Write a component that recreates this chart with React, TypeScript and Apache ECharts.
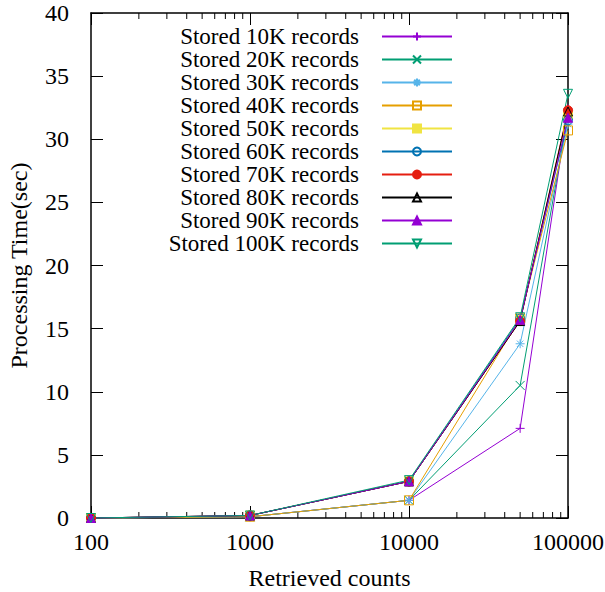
import React, { useEffect, useRef } from "react";
import * as echarts from "echarts";

const retrievedCounts = [100, 1000, 10000, 50000, 100000];
const seriesNames = [
  "Stored 10K records",
  "Stored 20K records",
  "Stored 30K records",
  "Stored 40K records",
  "Stored 50K records",
  "Stored 60K records",
  "Stored 70K records",
  "Stored 80K records",
  "Stored 90K records",
  "Stored 100K records",
];
const stored10K = [0, 0.1, 1.4, 7.1, 32.4];
const stored20K = [0, 0.1, 1.4, 10.5, 31.9];
const stored30K = [0, 0.1, 1.4, 13.8, 31.2];
const stored40K = [0, 0.1, 1.4, 15.8, 30.7];
const stored50K = [0, 0.2, 2.9, 15.7, 32.0];
const stored60K = [0, 0.2, 2.9, 15.8, 31.5];
const stored70K = [0, 0.2, 2.9, 15.6, 32.3];
const stored80K = [0, 0.2, 2.9, 15.6, 32.2];
const stored90K = [0, 0.2, 2.9, 15.7, 31.7];
const stored100K = [0, 0.2, 3.0, 15.9, 33.6];
const allValues = [
  stored10K, stored20K, stored30K, stored40K, stored50K,
  stored60K, stored70K, stored80K, stored90K, stored100K,
];
const xTickLabels = ["100", "1000", "10000", "100000"];
const minorTickValues = [
  200, 300, 400, 500, 600, 700, 800, 900,
  2000, 3000, 4000, 5000, 6000, 7000, 8000, 9000,
  20000, 30000, 40000, 50000, 60000, 70000, 80000, 90000,
];

const colors = [
  "#9400d3", "#009e73", "#56b4e9", "#e69f00", "#f0e442",
  "#0072b2", "#e51e10", "#000000", "#9400d3", "#009e73",
];
const TRANSPARENT = "rgba(0,0,0,0)";
const symbols: { symbol: string; filled: boolean }[] = [
  { symbol: "path://M5,0L5,10M0,5L10,5", filled: false },
  { symbol: "path://M0,0L10,10M10,0L0,10", filled: false },
  { symbol: "path://M5,0L5,10M0,5L10,5M1.5,1.5L8.5,8.5M8.5,1.5L1.5,8.5", filled: false },
  { symbol: "path://M0,0L10,0L10,10L0,10Z", filled: false },
  { symbol: "path://M0,0L10,0L10,10L0,10Z", filled: true },
  { symbol: "circle", filled: false },
  { symbol: "circle", filled: true },
  { symbol: "path://M5,0L10,8.66L0,8.66Z", filled: false },
  { symbol: "path://M5,0L10,8.66L0,8.66Z", filled: true },
  { symbol: "path://M0,0L10,0L5,8.66Z", filled: false },
];

const FONT = "'Liberation Serif', 'Times New Roman', serif";
const Y_MIN = 0;
const Y_MAX = 40;

export default function App() {
  const ref = useRef<HTMLDivElement>(null);
  useEffect(() => {
    if (!ref.current) return;
    const chart = echarts.init(ref.current, undefined, { renderer: "svg" });
    const lineSeries = seriesNames.map((name, i) => {
      const s = symbols[i];
      const c = colors[i];
      return {
        name,
        type: "line",
        xAxisIndex: 0,
        yAxisIndex: 0,
        data: retrievedCounts.map((x, j) => [x, allValues[i][j]]),
        symbol: s.symbol,
        symbolSize: 9,
        showAllSymbol: true,
        clip: false,
        lineStyle: { color: c, width: 1 },
        itemStyle: {
          color: s.filled ? c : TRANSPARENT,
          borderColor: c,
          borderWidth: 1,
        },
        emphasis: { disabled: true },
        z: 3,
      };
    });
    const axisLabelStyle = { color: "#000", fontFamily: FONT, fontSize: 24 };
    chart.setOption({
      animation: false,
      backgroundColor: "#fff",
      grid: {
        left: 91,
        right: 37,
        top: 13,
        bottom: 74,
        containLabel: false,
        outerBoundsMode: "none",
      },
      legend: {
        data: seriesNames,
        orient: "vertical",
        align: "right",
        right: 152,
        top: 25,
        padding: 0,
        itemWidth: 70,
        itemHeight: 10,
        itemGap: 0,
        selectedMode: false,
        textStyle: {
          color: "#000",
          fontFamily: FONT,
          fontSize: 23,
          padding: [0, 18, 0, 0],
        },
      },
      xAxis: [
        {
          type: "log",
          logBase: 10,
          min: 100,
          max: 100000,
          name: "Retrieved counts",
          nameLocation: "middle",
          nameGap: 48,
          nameMoveOverlap: false,
          nameTextStyle: axisLabelStyle,
          axisLine: { show: true, onZero: false, lineStyle: { color: "#000", width: 1.5 } },
          axisTick: { show: true, inside: true, length: 12, lineStyle: { color: "#000" } },
          axisLabel: {
            ...axisLabelStyle,
            margin: 12,
            formatter: (v: number) => {
              const s = String(Math.round(v));
              return xTickLabels.includes(s) ? s : "";
            },
          },
          splitLine: { show: false },
          minorTick: { show: false },
        },
        {
          type: "log",
          logBase: 10,
          min: 100,
          max: 100000,
          position: "top",
          axisLine: { show: true, onZero: false, lineStyle: { color: "#000", width: 1.5 } },
          axisTick: { show: true, inside: true, length: 12, lineStyle: { color: "#000" } },
          axisLabel: { show: false },
          splitLine: { show: false },
        },
      ],
      yAxis: [
        {
          type: "value",
          min: Y_MIN,
          max: Y_MAX,
          interval: 5,
          name: "Processing Time(sec)",
          nameLocation: "middle",
          nameRotate: 90,
          nameGap: 60,
          nameMoveOverlap: false,
          nameTextStyle: axisLabelStyle,
          axisLine: { show: true, onZero: false, lineStyle: { color: "#000", width: 1.5 } },
          axisTick: { show: true, inside: true, length: 12, lineStyle: { color: "#000" } },
          axisLabel: { ...axisLabelStyle, margin: 22 },
          splitLine: { show: false },
        },
        {
          type: "value",
          min: Y_MIN,
          max: Y_MAX,
          interval: 5,
          position: "right",
          axisLine: { show: true, onZero: false, lineStyle: { color: "#000", width: 1.5 } },
          axisTick: { show: true, inside: true, length: 12, lineStyle: { color: "#000" } },
          axisLabel: { show: false },
          splitLine: { show: false },
        },
      ],
      series: [
        {
          type: "custom",
          name: "minorTicks",
          xAxisIndex: 0,
          yAxisIndex: 0,
          silent: true,
          clip: false,
          z: 1,
          data: minorTickValues.map((v) => [v, Y_MIN]),
          encode: { x: 0, y: 1 },
          renderItem: (_params: any, api: any) => {
            const v = api.value(0);
            const b = api.coord([v, Y_MIN]);
            const t = api.coord([v, Y_MAX]);
            return {
              type: "group",
              children: [
                { type: "line", shape: { x1: b[0], y1: b[1], x2: b[0], y2: b[1] - 6 }, style: { stroke: "#000", lineWidth: 1 } },
                { type: "line", shape: { x1: t[0], y1: t[1], x2: t[0], y2: t[1] + 6 }, style: { stroke: "#000", lineWidth: 1 } },
              ],
            };
          },
        },
        ...lineSeries,
      ],
    });
    return () => chart.dispose();
  }, []);
  return (
    <div
      ref={ref}
      style={{ position: "absolute", left: 0, top: 0, width: 605, height: 592 }}
    />
  );
}
